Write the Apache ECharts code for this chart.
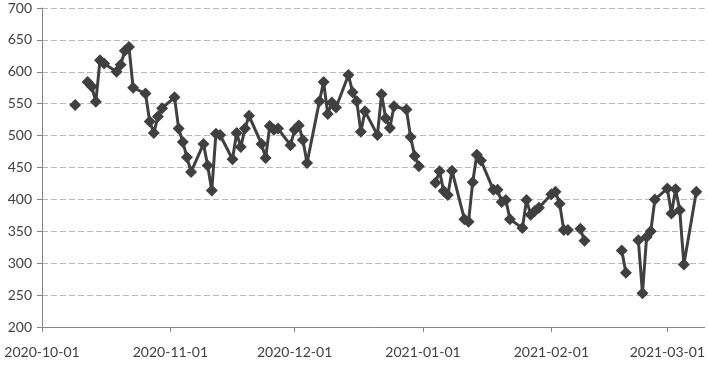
<!DOCTYPE html>
<html><head><meta charset="utf-8">
<script src="https://cdn.jsdelivr.net/npm/echarts@6/dist/echarts.min.js"></script>
<style>html,body{margin:0;padding:0;background:#fff}#c{width:708px;height:380px}</style>
</head><body><div id="c"></div>
<script>
// trading dates (null value = gap in the line)
const dates = [
'2020-10-09','2020-10-10',
'2020-10-12','2020-10-13','2020-10-14','2020-10-15','2020-10-16',
'2020-10-19','2020-10-20','2020-10-21','2020-10-22','2020-10-23',
'2020-10-26','2020-10-27','2020-10-28','2020-10-29','2020-10-30',
'2020-11-02','2020-11-03','2020-11-04','2020-11-05','2020-11-06',
'2020-11-09','2020-11-10','2020-11-11','2020-11-12','2020-11-13',
'2020-11-16','2020-11-17','2020-11-18','2020-11-19','2020-11-20',
'2020-11-23','2020-11-24','2020-11-25','2020-11-26','2020-11-27',
'2020-11-30','2020-12-01','2020-12-02','2020-12-03','2020-12-04',
'2020-12-07','2020-12-08','2020-12-09','2020-12-10','2020-12-11',
'2020-12-14','2020-12-15','2020-12-16','2020-12-17','2020-12-18',
'2020-12-21','2020-12-22','2020-12-23','2020-12-24','2020-12-25',
'2020-12-28','2020-12-29','2020-12-30','2020-12-31','2021-01-01',
'2021-01-04','2021-01-05','2021-01-06','2021-01-07','2021-01-08',
'2021-01-11','2021-01-12','2021-01-13','2021-01-14','2021-01-15',
'2021-01-18','2021-01-19','2021-01-20','2021-01-21','2021-01-22',
'2021-01-25','2021-01-26','2021-01-27','2021-01-28','2021-01-29',
'2021-02-01','2021-02-02','2021-02-03','2021-02-04','2021-02-05',
'2021-02-07','2021-02-08','2021-02-09','2021-02-10',
'2021-02-18','2021-02-19','2021-02-20',
'2021-02-22','2021-02-23','2021-02-24','2021-02-25','2021-02-26',
'2021-03-01','2021-03-02','2021-03-03','2021-03-04','2021-03-05',
'2021-03-08'
];
const values = [
548, null,
584, 577, 553, 618, 613,
600, 611, 633, 639, 575,
566, 522, 504, 530, 543,
560, 511, 490, 466, 443,
487, 453, 414, 503, 501,
463, 504, 482, 511, 531,
487, 465, 515, 509, 511,
485, 509, 516, 493, 457,
554, 584, 534, 552, 544,
595, 568, 554, 506, 538,
501, 565, 527, 512, 546,
541, 498, 468, 452, null,
426, 444, 413, 407, 445,
369, 365, 427, 470, 461,
415, 415, 396, 399, 369,
355, 399, 376, 382, 387,
408, 412, 393, 352, 352,
null, 354, 335, null,
320, 285, null,
336, 253, 341, 350, 400,
417, 378, 416, 383, 298,
412
];
const xTickDates = ['2020-10-01','2020-11-01','2020-12-01','2021-01-01','2021-02-01','2021-03-01'];
const xRange = ['2020-10-01','2021-03-10'];
const yRange = [200, 700];
const yStep = 50;

function ts(s){const p=s.split('-');return Date.UTC(+p[0],+p[1]-1,+p[2]);}
function fmt(v){const d=new Date(v);const m=d.getUTCMonth()+1,dd=d.getUTCDate();
  return d.getUTCFullYear()+'-'+(m<10?'0':'')+m+'-'+(dd<10?'0':'')+dd;}

const tickTs = xTickDates.map(ts);
const seriesData = dates.map((d,i)=>[ts(d), values[i]==null?'-':values[i]]);
const FONT = 'Lato';
const chart = echarts.init(document.getElementById('c'));
chart.setOption({
  animation:false,
  backgroundColor:'#fff',
  grid:{left:42,right:3,top:8,bottom:53,containLabel:false},
  xAxis:{
    type:'value', min:ts(xRange[0]), max:ts(xRange[1]), scale:true,
    axisLine:{show:true,onZero:false,lineStyle:{color:'#868686',width:1}},
    axisTick:{show:true,customValues:tickTs,length:5,lineStyle:{color:'#868686'}},
    axisLabel:{customValues:tickTs,formatter:v=>fmt(v),margin:18,color:'#404040',fontSize:14,fontFamily:FONT,hideOverlap:false,showMinLabel:true,showMaxLabel:true},
    splitLine:{show:false}
  },
  yAxis:{
    type:'value', min:yRange[0], max:yRange[1], interval:yStep,
    axisLine:{show:true,lineStyle:{color:'#868686',width:1}},
    axisTick:{show:true,length:5,lineStyle:{color:'#868686'}},
    axisLabel:{margin:10,color:'#404040',fontSize:14,fontFamily:FONT},
    splitLine:{show:true,lineStyle:{color:'#b8b8b8',type:[6,3],width:1}}
  },
  series:[{
    type:'line', data:seriesData, connectNulls:false,
    symbol:'diamond', symbolSize:12, showAllSymbol:true,
    lineStyle:{color:'#404040',width:3},
    itemStyle:{color:'#404040'}
  }]
});
</script></body></html>
